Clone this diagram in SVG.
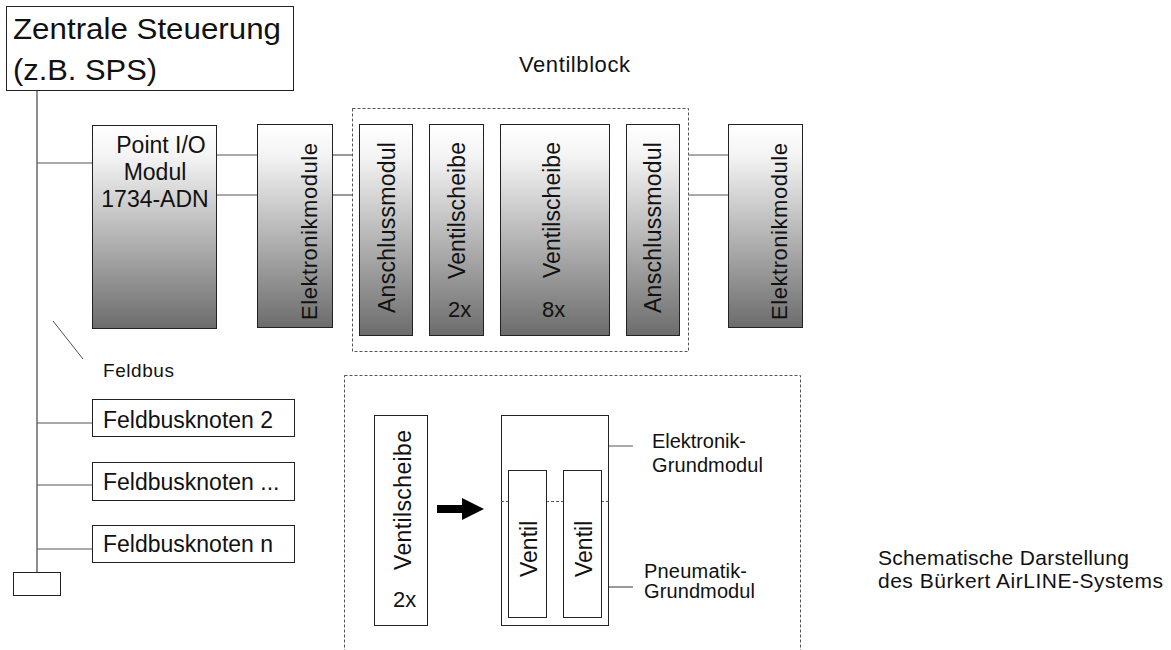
<svg xmlns="http://www.w3.org/2000/svg" width="1171" height="650" viewBox="0 0 1171 650">
<defs>
<linearGradient id="g" x1="0" y1="0" x2="0" y2="1">
<stop offset="0" stop-color="#ffffff"/>
<stop offset="0.15" stop-color="#f4f4f4"/>
<stop offset="0.55" stop-color="#b4b4b4"/>
<stop offset="1" stop-color="#6c6c6c"/>
</linearGradient>
<style>
text{font-family:"Liberation Sans",Arial,Helvetica,sans-serif;fill:#111}
.box{fill:#fff;stroke:#222;stroke-width:1}
.gbox{fill:url(#g);stroke:#222;stroke-width:1}
.ln{stroke:#555;stroke-width:1.2;fill:none}
.bus{stroke:#444;stroke-width:1.2;fill:none}
.dash{fill:none;stroke:#555;stroke-width:1;stroke-dasharray:3 2}
.t23{font-size:23px}
.t20{font-size:20px}
</style>
</defs>
<g id="connectors">
<line class="bus" x1="37" y1="91" x2="37" y2="572"/>
<line class="ln" x1="37" y1="163" x2="92" y2="163"/>
<line class="ln" x1="217" y1="155" x2="257" y2="155"/>
<line class="ln" x1="217" y1="195" x2="257" y2="195"/>
<line class="ln" x1="333" y1="155" x2="352" y2="155"/>
<line class="ln" x1="333" y1="195" x2="352" y2="195"/>
<line class="ln" x1="689" y1="155" x2="728" y2="155"/>
<line class="ln" x1="689" y1="195" x2="728" y2="195"/>
<line class="ln" x1="37" y1="423" x2="92" y2="423"/>
<line class="ln" x1="37" y1="485" x2="92" y2="485"/>
<line class="ln" x1="37" y1="549" x2="92" y2="549"/>
<line stroke="#222" stroke-width="0.8" x1="53" y1="321" x2="83" y2="359"/>
<line class="ln" x1="594" y1="446" x2="633" y2="446"/>
<line class="ln" x1="609" y1="587" x2="633" y2="587"/>
<g id="arrow">
<rect x="437" y="505" width="26" height="8" fill="#000"/>
<polygon points="462,498 484,509 462,520" fill="#000"/>
</g>
</g>
<g id="zentrale">
<rect class="box" x="6.5" y="6.5" width="287" height="84"/>
<text x="13" y="39" font-size="30" textLength="268" lengthAdjust="spacingAndGlyphs">Zentrale Steuerung</text>
<text x="13" y="80" font-size="30" textLength="144" lengthAdjust="spacingAndGlyphs">(z.B. SPS)</text>
</g>
<g id="pointio">
<rect class="gbox" x="92.5" y="125.5" width="124" height="203"/>
<text class="t23" x="161" y="153" text-anchor="middle">Point I/O</text>
<text class="t23" x="155" y="180" text-anchor="middle">Modul</text>
<text class="t23" x="155" y="207" text-anchor="middle">1734-ADN</text>
</g>
<g id="elektronik1">
<rect class="gbox" x="257.5" y="124.5" width="75" height="203"/>
<text transform="translate(317,320) rotate(-90)" font-size="22" textLength="177" lengthAdjust="spacing">Elektronikmodule</text>
</g>
<g id="ventilblock">
<text x="519" y="72" font-size="22" textLength="111" lengthAdjust="spacing">Ventilblock</text>
<rect class="dash" x="352.5" y="108.5" width="336" height="243"/>
<g id="anschluss1">
<rect class="gbox" x="359.5" y="124.5" width="53" height="211"/>
<text class="t23" transform="translate(395,313) rotate(-90)" textLength="171" lengthAdjust="spacing">Anschlussmodul</text>
</g>
<g id="ventilscheibe2">
<rect class="gbox" x="429.5" y="124.5" width="54" height="211"/>
<text class="t23" transform="translate(465,279) rotate(-90)" textLength="137" lengthAdjust="spacing">Ventilscheibe</text>
<text x="448" y="317" font-size="22">2x</text>
</g>
<g id="ventilscheibe8">
<rect class="gbox" x="500.5" y="124.5" width="109" height="211"/>
<text class="t23" transform="translate(560,278) rotate(-90)" textLength="136" lengthAdjust="spacing">Ventilscheibe</text>
<text x="542" y="317" font-size="22">8x</text>
</g>
<g id="anschluss2">
<rect class="gbox" x="626.5" y="124.5" width="53" height="211"/>
<text class="t23" transform="translate(661,313) rotate(-90)" textLength="171" lengthAdjust="spacing">Anschlussmodul</text>
</g>
</g>
<g id="elektronik2">
<rect class="gbox" x="728.5" y="124.5" width="74" height="203"/>
<text transform="translate(787,320) rotate(-90)" font-size="22" textLength="177" lengthAdjust="spacing">Elektronikmodule</text>
</g>
<g id="feldbus-label">
<text x="103" y="377" font-size="19" textLength="71" lengthAdjust="spacing">Feldbus</text>
</g>
<g id="knoten2">
<rect class="box" x="92.5" y="399.5" width="202" height="37"/>
<text class="t23" x="103" y="428">Feldbusknoten 2</text>
</g>
<g id="knotenx">
<rect class="box" x="92.5" y="462.5" width="202" height="38"/>
<text class="t23" x="103" y="490">Feldbusknoten ...</text>
</g>
<g id="knotenn">
<rect class="box" x="92.5" y="525.5" width="202" height="37"/>
<text class="t23" x="103" y="552">Feldbusknoten n</text>
</g>
<g id="terminator">
<rect class="box" x="13.5" y="572.5" width="47" height="23"/>
</g>
<g id="detail">
<rect class="dash" x="344.5" y="375.5" width="456" height="300"/>
<g id="ventilscheibe-detail">
<rect class="box" x="374.5" y="415.5" width="53" height="210"/>
<text class="t23" transform="translate(411,570) rotate(-90)" textLength="140" lengthAdjust="spacing">Ventilscheibe</text>
<text x="393" y="607" font-size="22">2x</text>
</g>
<g id="grundmodul">
<rect class="box" x="501.5" y="415.5" width="107" height="210"/>
<line class="dash" x1="501" y1="501.5" x2="609" y2="501.5"/>
<rect class="box" x="508.5" y="470.5" width="38" height="147"/>
<text class="t23" transform="translate(537,577) rotate(-90)">Ventil</text>
<rect class="box" x="563.5" y="470.5" width="38" height="147"/>
<text class="t23" transform="translate(592,577) rotate(-90)">Ventil</text>
</g>
<g id="label-elektronik">
<text class="t20" x="652" y="448" textLength="94" lengthAdjust="spacing">Elektronik-</text>
<text class="t20" x="652" y="472" textLength="111" lengthAdjust="spacing">Grundmodul</text>
</g>
<g id="label-pneumatik">
<text class="t20" x="644" y="578" textLength="103" lengthAdjust="spacing">Pneumatik-</text>
<text class="t20" x="644" y="598" textLength="111" lengthAdjust="spacing">Grundmodul</text>
</g>
</g>
<g id="caption">
<text x="878" y="565" font-size="21" textLength="251" lengthAdjust="spacing">Schematische Darstellung</text>
<text x="878" y="588" font-size="21" textLength="285" lengthAdjust="spacing">des Bürkert AirLINE-Systems</text>
</g>
</svg>
